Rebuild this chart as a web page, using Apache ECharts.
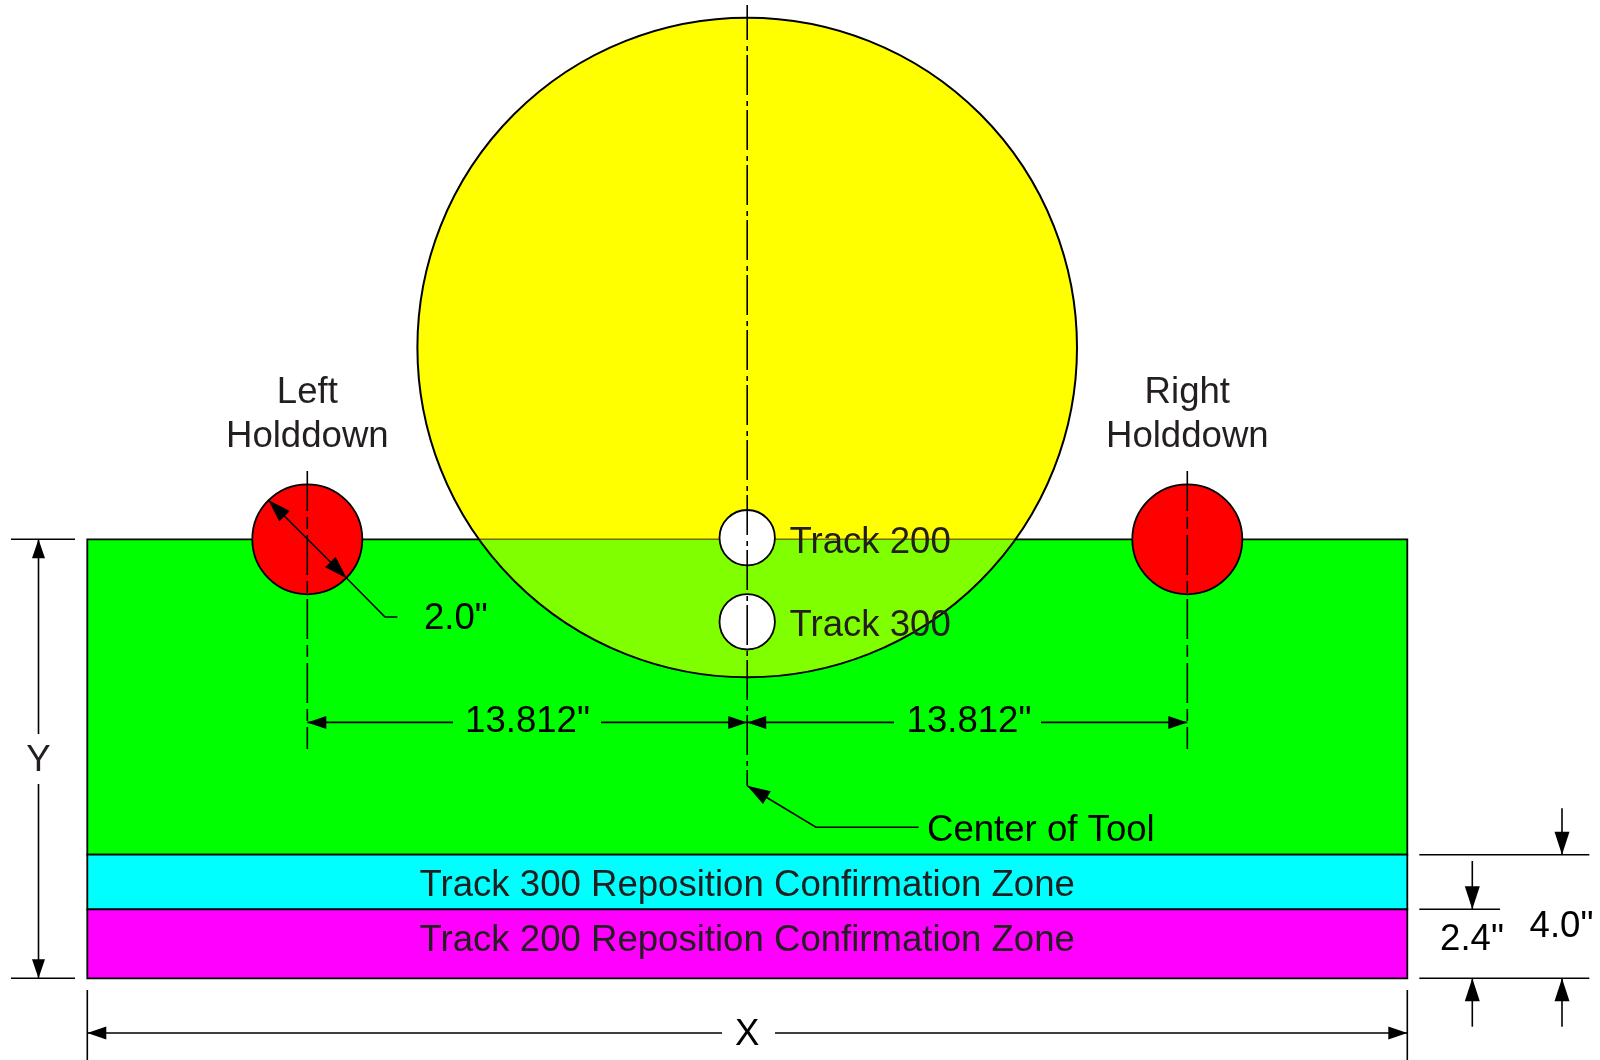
<!DOCTYPE html>
<html>
<head>
<meta charset="utf-8">
<title>Holddown layout</title>
<style>
html,body{margin:0;padding:0;background:#fff;}
#main{width:1600px;height:1060px;}
</style>
<script src="https://cdn.jsdelivr.net/npm/echarts@6/dist/echarts.min.js"></script>
</head>
<body>
<div id="main"></div>
<script>
var bandLeft=87.3;
var bandRight=1407.3;
var bandEdges=[539.3,854.7,909.3,978.3];
var bandColors=['#00ff00','#00ffff','#ff00ff'];

var toolCenter=[747.2,347.5];
var toolRadius=329.8;

var holddownX=[307.3,1187.3];
var holddownY=539.3;
var holddownRadius=55;

var trackHoleY=[537.7,621.8];
var trackHoleRadius=27.7;

// center lines: x, from y, to y
var centerLines=[
    [307.3,471,749],
    [1187.3,471,749],
    [747.2,5,785.7]
];

// plain thin lines, each a list of points
var thinLines=[
    [[11,539.3],[75,539.3]],
    [[11,978.3],[75,978.3]],
    [[38.5,539.3],[38.5,734]],
    [[38.5,784],[38.5,978.3]],
    [[87.3,990],[87.3,1060]],
    [[1407.3,990],[1407.3,1060]],
    [[87.3,1033],[722,1033]],
    [[775,1033],[1407.3,1033]],
    [[307.3,722.4],[453,722.4]],
    [[601,722.4],[747.2,722.4]],
    [[747.2,722.4],[894,722.4]],
    [[1041,722.4],[1187.3,722.4]],
    [[268.3,500],[346.7,578.3],[385,617],[397.3,617]],
    [[747.2,785.7],[816,827.3],[918.6,827.3]],
    [[1419.3,854.7],[1589.3,854.7]],
    [[1419.3,909.3],[1500,909.3]],
    [[1419.3,978.3],[1589.3,978.3]],
    [[1472.3,861],[1472.3,909.3]],
    [[1472.3,978.3],[1472.3,1026.7]],
    [[1562,808.3],[1562,854.7]],
    [[1562,978.3],[1562,1026.7]]
];

// arrow heads: tip x, tip y, point on the shaft x, y
var smallArrows=[
    [38.5,539.3,38.5,600],
    [38.5,978.3,38.5,900],
    [87.3,1033,200,1033],
    [1407.3,1033,1300,1033],
    [307.3,722.4,400,722.4],
    [747.2,722.4,650,722.4],
    [747.2,722.4,850,722.4],
    [1187.3,722.4,1100,722.4]
];
var bigArrows=[
    [1472.3,909.3,1472.3,861],
    [1472.3,978.3,1472.3,1026.7],
    [1562,854.7,1562,808.3],
    [1562,978.3,1562,1026.7],
    [268.3,500,346.7,578.3],
    [346.7,578.3,268.3,500],
    [747.2,785.7,816,827.3]
];

var labelTexts=['Left','Holddown','Right','Holddown','Track 200','Track 300','2.0"','13.812"','13.812"','Center of Tool',
    'Track 300 Reposition Confirmation Zone','Track 200 Reposition Confirmation Zone','Y','X','2.4"','4.0"'];
var labelX=[307.3,307.3,1187.3,1187.3,789.5,789.5,424,527.5,969,927,747.2,747.2,38.5,747.2,1472,1561.5];
var labelY=[393,437,393,437,543,626,619,722,722,831,886,941,761,1035,940,927];
var labelColors=['#231f20','#231f20','#231f20','#231f20','#231f20','#231f20','#000','#000','#000','#000','#231f20','#231f20','#231f20','#000','#000','#000'];
var labelAlign=['center','center','center','center','left','left','left','center','center','left','center','center','center','center','center','center'];

function indexData(arr){
    return arr.map(function(a,i){return [i];});
}
function circleItem(api,c,r,style){
    var p=api.coord(c);
    return {type:'circle',shape:{cx:p[0],cy:p[1],r:api.size([r,0])[0]},style:style};
}
function arrowItem(api,a,len,wid){
    var tip=api.coord([a[0],a[1]]);
    var tail=api.coord([a[2],a[3]]);
    var dx=tail[0]-tip[0],dy=tail[1]-tip[1];
    var d=Math.sqrt(dx*dx+dy*dy);
    dx/=d;dy/=d;
    return {type:'polygon',shape:{points:[
        tip,
        [tip[0]+dx*len-dy*wid/2,tip[1]+dy*len+dx*wid/2],
        [tip[0]+dx*len+dy*wid/2,tip[1]+dy*len-dx*wid/2]
    ]},style:{fill:'#000'}};
}

var myChart=echarts.init(document.getElementById('main'));
var option={
    animation:false,
    backgroundColor:'#fff',
    grid:{left:0,right:0,top:0,bottom:0},
    xAxis:{type:'value',min:0,max:1600,show:false},
    yAxis:{type:'value',min:0,max:1060,inverse:true,show:false},
    tooltip:{show:false},
    series:[
        {
            name:'bands',type:'custom',z:1,silent:true,clip:false,
            data:indexData(bandColors),
            renderItem:function(params,api){
                var i=params.dataIndex;
                var a=api.coord([bandLeft,bandEdges[i]]);
                var b=api.coord([bandRight,bandEdges[i+1]]);
                return {type:'rect',shape:{x:a[0],y:a[1],width:b[0]-a[0],height:b[1]-a[1]},
                    style:{fill:bandColors[i],stroke:'#000',lineWidth:1.8}};
            }
        },
        {
            name:'tool',type:'custom',z:2,silent:true,clip:false,
            data:[[0]],
            renderItem:function(params,api){
                // yellow over green comes out as #80ff00 below the top edge of the green band
                var s=Math.asin((bandEdges[0]-toolCenter[1])/toolRadius);
                var pts=[];
                for(var k=0;k<=200;k++){
                    var t=s+(Math.PI-2*s)*k/200;
                    pts.push(api.coord([toolCenter[0]+toolRadius*Math.cos(t),toolCenter[1]+toolRadius*Math.sin(t)]));
                }
                return {type:'group',children:[
                    circleItem(api,toolCenter,toolRadius,{fill:'#ffff00'}),
                    {type:'polygon',shape:{points:pts},style:{fill:'#80ff00'}},
                    {type:'line',shape:{x1:pts[0][0],y1:pts[0][1],x2:pts[200][0],y2:pts[200][1]},
                        style:{stroke:'#6f7000',lineWidth:1.5}},
                    circleItem(api,toolCenter,toolRadius,{fill:'none',stroke:'#000',lineWidth:2})
                ]};
            }
        },
        {
            name:'holddowns',type:'custom',z:3,silent:true,clip:false,
            data:indexData(holddownX),
            renderItem:function(params,api){
                return circleItem(api,[holddownX[params.dataIndex],holddownY],holddownRadius,
                    {fill:'#ff0000',stroke:'#000',lineWidth:1.8});
            }
        },
        {
            name:'track holes',type:'custom',z:4,silent:true,clip:false,
            data:indexData(trackHoleY),
            renderItem:function(params,api){
                return circleItem(api,[toolCenter[0],trackHoleY[params.dataIndex]],trackHoleRadius,
                    {fill:'#fff',stroke:'#000',lineWidth:1.8});
            }
        },
        {
            name:'labels',type:'custom',z:5,silent:true,clip:false,
            data:indexData(labelTexts),
            renderItem:function(params,api){
                var i=params.dataIndex;
                var p=api.coord([labelX[i],labelY[i]]);
                return {type:'text',x:p[0],y:p[1],style:{
                    text:labelTexts[i],fill:labelColors[i],
                    font:'36.6px "Liberation Sans", Arial, sans-serif',
                    align:labelAlign[i],verticalAlign:'middle'
                }};
            }
        },
        {
            name:'center lines',type:'custom',z:6,silent:true,clip:false,
            data:indexData(centerLines),
            renderItem:function(params,api){
                var c=centerLines[params.dataIndex];
                var a=api.coord([c[0],c[1]]);
                var b=api.coord([c[0],c[2]]);
                var tool=params.dataIndex==2;
                return {type:'line',shape:{x1:a[0],y1:a[1],x2:b[0],y2:b[1]},style:{
                    stroke:'#000',lineWidth:1.6,
                    lineDash:tool?[40,6,5,4]:[40,6,12,6],
                    lineDashOffset:tool?5:0
                }};
            }
        },
        {
            name:'thin lines',type:'custom',z:7,silent:true,clip:false,
            data:indexData(thinLines),
            renderItem:function(params,api){
                var pts=thinLines[params.dataIndex].map(function(p){return api.coord(p);});
                return {type:'polyline',shape:{points:pts},style:{stroke:'#000',lineWidth:1.6,fill:'none'}};
            }
        },
        {
            name:'small arrows',type:'custom',z:8,silent:true,clip:false,
            data:indexData(smallArrows),
            renderItem:function(params,api){
                return arrowItem(api,smallArrows[params.dataIndex],19,13);
            }
        },
        {
            name:'big arrows',type:'custom',z:8,silent:true,clip:false,
            data:indexData(bigArrows),
            renderItem:function(params,api){
                return arrowItem(api,bigArrows[params.dataIndex],23,15);
            }
        }
    ]
};
myChart.setOption(option);
</script>
</body>
</html>
